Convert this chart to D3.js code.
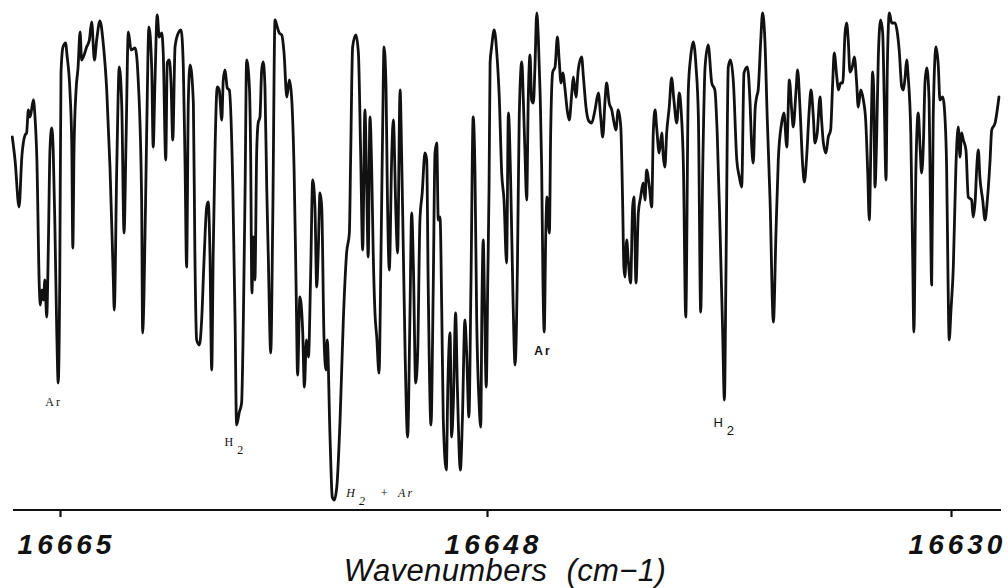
<!DOCTYPE html><meta charset="utf-8"><style>
    body { margin: 0; background: #fff; }
    .trace { fill: none; stroke: #111; stroke-width: 2.8; stroke-linejoin: round; stroke-linecap: round; }
    .axis .domain { display: none; }
    .axis line { stroke: #111; stroke-width: 2.2; }
    .axis text { font: italic bold 28px "Liberation Sans", Arial, sans-serif; letter-spacing: 4px; fill: #111; }
    .baseline { stroke: #111; stroke-width: 2.2; }
    .title { font: italic 31px "Liberation Sans", Arial, sans-serif; word-spacing: 10px; letter-spacing: 0.4px; fill: #111; }
    .lbl { fill: #111; }
</style><svg width="1008" height="588"></svg><script src="https://cdn.jsdelivr.net/npm/d3@7"></script><script>

    var width = 1008, height = 588;

    var margin = ({top: 20, right: 7, bottom: 78, left: 13});

    // tick labels on the wavenumber axis (cm-1, decreasing to the right)
    var tickLabels = [16665, 16648, 16630];

    // spectrum: wavenumber (cm-1) and signal (arb. units)
    var wavenumber = [
        16666.90, 16666.79, 16666.63, 16666.52, 16666.39, 16666.33, 16666.26, 16666.19, 16666.06, 16666.00,
        16665.92, 16665.82, 16665.78, 16665.72, 16665.66, 16665.60, 16665.53, 16665.46, 16665.40, 16665.33,
        16665.27, 16665.20, 16665.13, 16665.07, 16665.01, 16664.96, 16664.88, 16664.77, 16664.73, 16664.60,
        16664.53, 16664.49, 16664.44, 16664.36, 16664.28, 16664.20, 16664.14, 16664.07, 16663.94, 16663.83,
        16663.74, 16663.63, 16663.54, 16663.41, 16663.28, 16663.14, 16663.01, 16662.88, 16662.84, 16662.74,
        16662.64, 16662.54, 16662.45, 16662.37, 16662.28, 16662.17, 16662.01, 16661.88, 16661.75, 16661.71,
        16661.66, 16661.55, 16661.46, 16661.35, 16661.29, 16661.22, 16661.13, 16661.05, 16660.95, 16660.89,
        16660.79, 16660.73, 16660.65, 16660.58, 16660.51, 16660.42, 16660.29, 16660.18, 16660.09, 16660.02,
        16659.96, 16659.89, 16659.82, 16659.69, 16659.63, 16659.56, 16659.45, 16659.36, 16659.27, 16659.16,
        16659.10, 16659.03, 16658.96, 16658.90, 16658.83, 16658.74, 16658.66, 16658.56, 16658.50, 16658.43,
        16658.34, 16658.26, 16658.12, 16658.03, 16657.97, 16657.86, 16657.77, 16657.70, 16657.63, 16657.57,
        16657.46, 16657.41, 16657.36, 16657.30, 16657.24, 16657.17, 16657.11, 16657.04, 16656.97, 16656.91,
        16656.84, 16656.77, 16656.71, 16656.61, 16656.53, 16656.44, 16656.35, 16656.27, 16656.17, 16656.08,
        16655.97, 16655.87, 16655.78, 16655.68, 16655.60, 16655.54, 16655.45, 16655.34, 16655.27, 16655.19,
        16655.11, 16655.02, 16654.94, 16654.85, 16654.78, 16654.72, 16654.65, 16654.58, 16654.49, 16654.41,
        16654.36, 16654.25, 16654.16, 16654.08, 16653.98, 16653.85, 16653.72, 16653.59, 16653.48, 16653.43,
        16653.35, 16653.22, 16653.12, 16653.03, 16652.95, 16652.86, 16652.79, 16652.73, 16652.66, 16652.59,
        16652.53, 16652.46, 16652.39, 16652.30, 16652.22, 16652.15, 16652.10, 16652.02, 16651.97, 16651.89,
        16651.79, 16651.73, 16651.62, 16651.56, 16651.46, 16651.40, 16651.33, 16651.26, 16651.16, 16651.07,
        16651.00, 16650.93, 16650.84, 16650.76, 16650.67, 16650.58, 16650.47, 16650.40, 16650.34, 16650.23,
        16650.14, 16650.07, 16650.00, 16649.94, 16649.87, 16649.80, 16649.74, 16649.62, 16649.56, 16649.47,
        16649.41, 16649.34, 16649.25, 16649.18, 16649.06, 16648.98, 16648.88, 16648.81, 16648.72, 16648.64,
        16648.55, 16648.48, 16648.41, 16648.32, 16648.25, 16648.20, 16648.15, 16648.10, 16648.03, 16647.97,
        16647.92, 16647.88, 16647.82, 16647.72, 16647.62, 16647.52, 16647.43, 16647.34, 16647.24, 16647.17,
        16647.08, 16646.99, 16646.91, 16646.82, 16646.75, 16646.65, 16646.59, 16646.53, 16646.46, 16646.40,
        16646.33, 16646.27, 16646.20, 16646.14, 16646.07, 16646.01, 16645.94, 16645.88, 16645.83, 16645.78,
        16645.72, 16645.67, 16645.58, 16645.53, 16645.45, 16645.36, 16645.27, 16645.20, 16645.13, 16645.06,
        16644.97, 16644.89, 16644.81, 16644.71, 16644.65, 16644.55, 16644.46, 16644.33, 16644.26, 16644.16,
        16644.07, 16643.94, 16643.81, 16643.68, 16643.59, 16643.51, 16643.42, 16643.36, 16643.26, 16643.16,
        16643.07, 16643.00, 16642.91, 16642.81, 16642.74, 16642.69, 16642.65, 16642.58, 16642.52, 16642.43,
        16642.35, 16642.30, 16642.22, 16642.13, 16642.04, 16641.94, 16641.87, 16641.81, 16641.70, 16641.61,
        16641.55, 16641.48, 16641.42, 16641.32, 16641.22, 16641.16, 16641.10, 16641.03, 16640.93, 16640.84,
        16640.75, 16640.64, 16640.54, 16640.47, 16640.38, 16640.29, 16640.19, 16640.10, 16640.00, 16639.89,
        16639.80, 16639.71, 16639.63, 16639.54, 16639.42, 16639.28, 16639.16, 16639.07, 16638.96, 16638.86,
        16638.79, 16638.73, 16638.64, 16638.55, 16638.44, 16638.31, 16638.21, 16638.12, 16638.03, 16637.90,
        16637.80, 16637.73, 16637.67, 16637.60, 16637.54, 16637.48, 16637.38, 16637.31, 16637.22, 16637.13,
        16637.02, 16636.89, 16636.79, 16636.70, 16636.57, 16636.48, 16636.37, 16636.27, 16636.18, 16636.12,
        16636.01, 16635.95, 16635.86, 16635.75, 16635.69, 16635.60, 16635.50, 16635.43, 16635.34, 16635.28,
        16635.19, 16635.08, 16635.02, 16634.95, 16634.85, 16634.76, 16634.67, 16634.59, 16634.53, 16634.43,
        16634.37, 16634.28, 16634.20, 16634.11, 16634.05, 16633.98, 16633.92, 16633.83, 16633.75, 16633.66,
        16633.60, 16633.50, 16633.40, 16633.31, 16633.23, 16633.17, 16633.10, 16633.04, 16632.99, 16632.95,
        16632.88, 16632.82, 16632.73, 16632.65, 16632.59, 16632.52, 16632.47, 16632.39, 16632.30, 16632.17,
        16632.08, 16632.01, 16631.91, 16631.85, 16631.78, 16631.72, 16631.66, 16631.56, 16631.49, 16631.44,
        16631.36, 16631.27, 16631.20, 16631.14, 16631.07, 16631.01, 16630.94, 16630.85, 16630.80, 16630.75,
        16630.69, 16630.58, 16630.49, 16630.43, 16630.32, 16630.26, 16630.17, 16630.12, 16630.07, 16630.00,
        16629.91, 16629.81, 16629.72, 16629.65, 16629.59, 16629.52, 16629.42, 16629.33, 16629.20, 16629.14,
        16629.06, 16629.00, 16628.94, 16628.88, 16628.77, 16628.68, 16628.59, 16628.49, 16628.42, 16628.29, 16628.14
    ];

    var signal = [
        36.3, 34.0, 29.3, 34.3, 36.5, 36.7, 39.0, 38.3, 40.0, 38.5,
        34.0, 21.0, 19.5, 21.0, 20.0, 22.0, 18.3, 26.0, 35.0, 37.2,
        35.0, 27.0, 17.0, 11.7, 22.0, 42.7, 45.3, 45.7, 44.7, 40.7,
        35.3, 25.2, 35.3, 41.0, 43.3, 46.8, 44.0, 44.3, 45.3, 46.0,
        47.8, 44.0, 46.0, 47.9, 45.7, 41.0, 33.3, 22.3, 19.0, 33.3,
        43.3, 39.3, 26.7, 36.0, 46.8, 45.0, 45.2, 41.7, 30.0, 16.7,
        20.0, 36.7, 47.3, 43.3, 35.3, 41.7, 48.5, 46.3, 46.7, 44.7,
        34.0, 43.7, 44.0, 41.7, 36.0, 45.3, 46.7, 47.0, 43.3, 33.3,
        23.3, 40.0, 43.5, 39.7, 24.7, 16.0, 15.5, 18.0, 23.7, 29.3,
        29.8, 24.7, 13.0, 24.7, 34.7, 41.3, 41.0, 38.0, 42.0, 43.0,
        41.2, 41.0, 31.3, 18.0, 7.5, 8.8, 9.7, 18.0, 31.3, 44.0,
        41.3, 34.7, 20.7, 26.3, 22.0, 34.7, 37.7, 38.3, 43.0, 43.8,
        41.3, 31.3, 24.7, 14.7, 28.0, 48.0, 47.3, 46.7, 46.5, 44.7,
        40.3, 42.0, 40.3, 33.0, 21.3, 12.5, 20.3, 17.0, 11.3, 16.0,
        14.3, 22.7, 32.0, 29.3, 21.3, 24.7, 30.7, 29.3, 16.3, 13.0,
        16.0, 6.3, 0.3, 0.0, 1.3, 8.0, 18.0, 24.7, 26.7, 34.0,
        45.3, 46.5, 44.7, 34.7, 25.0, 39.0, 31.3, 24.3, 38.3, 33.0,
        24.7, 18.7, 16.3, 12.7, 24.7, 38.0, 45.3, 41.3, 31.3, 23.0,
        34.7, 38.0, 28.0, 24.7, 41.0, 34.7, 24.7, 14.7, 6.3, 18.0,
        28.7, 23.3, 11.7, 14.7, 28.0, 30.7, 34.7, 34.0, 21.3, 7.5,
        21.3, 34.7, 35.7, 28.0, 28.3, 18.7, 8.0, 3.0, 11.3, 16.7,
        6.3, 9.7, 18.7, 11.3, 3.0, 8.0, 18.0, 14.7, 8.3, 21.3,
        38.3, 33.0, 18.0, 10.0, 7.3, 20.0, 26.0, 20.0, 11.3, 22.0,
        31.3, 43.7, 45.3, 47.0, 44.7, 40.0, 32.7, 30.0, 23.7, 38.7,
        31.7, 20.0, 13.5, 23.3, 38.3, 43.8, 40.0, 35.0, 30.0, 40.0,
        44.5, 40.0, 39.7, 43.3, 48.7, 46.3, 40.7, 33.3, 22.0, 16.8,
        26.7, 30.3, 26.7, 36.7, 42.8, 43.3, 46.3, 44.0, 41.7, 42.7,
        41.0, 39.0, 38.0, 40.7, 42.3, 40.3, 43.0, 44.3, 42.3, 39.3,
        38.0, 37.7, 39.0, 40.7, 38.3, 36.3, 40.0, 41.7, 39.7, 39.0,
        37.7, 37.0, 39.0, 37.3, 30.0, 23.3, 22.3, 26.0, 24.0, 21.7,
        29.3, 30.3, 21.7, 28.7, 30.3, 31.7, 30.0, 33.0, 31.3, 29.3,
        36.7, 39.0, 37.3, 34.7, 36.7, 34.3, 33.3, 36.7, 39.3, 42.2,
        40.0, 37.7, 40.7, 39.0, 33.3, 18.3, 41.0, 44.3, 45.8, 43.3,
        38.3, 18.8, 33.3, 43.3, 45.5, 41.7, 41.0, 36.7, 27.0, 17.0,
        10.0, 22.7, 43.3, 44.0, 41.7, 34.0, 32.3, 31.3, 42.7, 43.3,
        40.0, 35.3, 33.7, 39.0, 40.3, 41.0, 46.0, 48.7, 46.0, 38.3,
        30.0, 17.8, 26.7, 34.0, 37.7, 38.7, 35.3, 42.0, 39.0, 37.3,
        41.0, 43.0, 39.3, 33.3, 31.8, 34.3, 39.0, 41.0, 38.3, 35.7,
        36.7, 40.3, 38.0, 35.7, 34.7, 36.3, 37.0, 41.7, 44.7, 42.3,
        41.0, 41.7, 41.7, 46.7, 47.7, 45.7, 42.8, 43.3, 44.3, 41.7,
        39.3, 41.0, 40.0, 38.0, 32.7, 28.0, 36.7, 42.8, 40.0, 31.3,
        36.7, 44.3, 48.0, 46.7, 40.0, 32.0, 43.3, 48.7, 47.7, 47.7,
        46.7, 45.0, 41.3, 41.0, 42.3, 44.0, 42.3, 36.7, 25.0, 16.8,
        33.3, 38.7, 35.3, 32.7, 35.7, 41.7, 43.2, 40.0, 30.0, 21.5,
        38.3, 45.3, 43.3, 40.0, 40.3, 39.3, 33.3, 23.0, 16.0, 19.0,
        23.3, 33.3, 37.3, 34.3, 36.7, 36.0, 35.0, 30.3, 30.0, 28.3,
        30.0, 33.3, 35.0, 32.3, 30.0, 28.0, 30.0, 33.7, 37.0, 37.7, 40.3
    ];

    // line assignments marked under the strongest absorption lines
    var labelText = ["Ar", "H2", "H2 + Ar", "Ar", "H2"];
    var labelWavenumber = [16665.07, 16657.97, 16654.08, 16645.78, 16638.79];

    var points = d3.zip(wavenumber, signal);

    // the recorder's axis is not quite linear, so map through the three ticks
    var x = d3.scaleLinear()
        .domain(tickLabels)
        .range([60, 487, 951]);

    var y = d3.scaleLinear()
        .domain([0, 48])
        .range([height - margin.bottom - 10, margin.top]);

    const svg = d3.select("svg")
        .attr("viewBox", [0, 0, width, height]);

    var line = d3.line()
        .x(d => x(d[0]))
        .y(d => y(d[1]))
        .curve(d3.curveMonotoneX);

    svg.append("path")
        .datum(points)
        .attr("class", "trace")
        .attr("d", line);

    // baseline of the recording
    svg.append("line")
        .attr("class", "baseline")
        .attr("x1", margin.left)
        .attr("x2", width - margin.right)
        .attr("y1", height - margin.bottom)
        .attr("y2", height - margin.bottom);

    svg.append("g")
        .attr("class", "axis")
        .attr("transform", `translate(0,${height - margin.bottom})`)
        .call(d3.axisBottom(x).tickValues(tickLabels).tickFormat(d3.format("d")).tickSize(7).tickSizeOuter(0))
        .call(g => g.selectAll("text").attr("y", 44).attr("dy", null).attr("dx", 6));

    svg.append("text")
        .attr("class", "title")
        .attr("x", width / 2 + 1)
        .attr("y", height - 7)
        .attr("text-anchor", "middle")
        .text("Wavenumbers (cm\u22121)");

    // labels: offset from the bottom of the line they mark
    var labelDx = [-13, -12, 12, -10, -11];
    var labelDy = [23, 21, -3, 23, 27];
    var labelFont = ["12px 'Liberation Serif', serif", "12px 'Liberation Serif', serif",
        "italic 12px 'Liberation Serif', serif", "bold 12px 'Liberation Sans', sans-serif",
        "13px 'Liberation Sans', sans-serif"];

    labelText.forEach((t, i) => {
        var near = points.filter(p => Math.abs(p[0] - labelWavenumber[i]) < 0.08);
        var low = d3.min(near, p => p[1]);
        var txt = svg.append("text")
            .attr("class", "lbl")
            .attr("x", x(labelWavenumber[i]) + labelDx[i])
            .attr("y", y(low) + labelDy[i])
            .style("font", labelFont[i])
            .style("letter-spacing", "2px");
        if (t.startsWith("H2")) {
            txt.append("tspan").text("H");
            txt.append("tspan").attr("dx", 2).attr("dy", 8).text("2");
            var rest = t.slice(2).trim();
            if (rest) {
                var parts = rest.split(" ");
                txt.append("tspan").attr("dx", 13).attr("dy", -8).text(parts[0]);
                txt.append("tspan").attr("dx", 8).text(parts[1]);
            }
        } else {
            txt.text(t);
        }
    });

</script>
